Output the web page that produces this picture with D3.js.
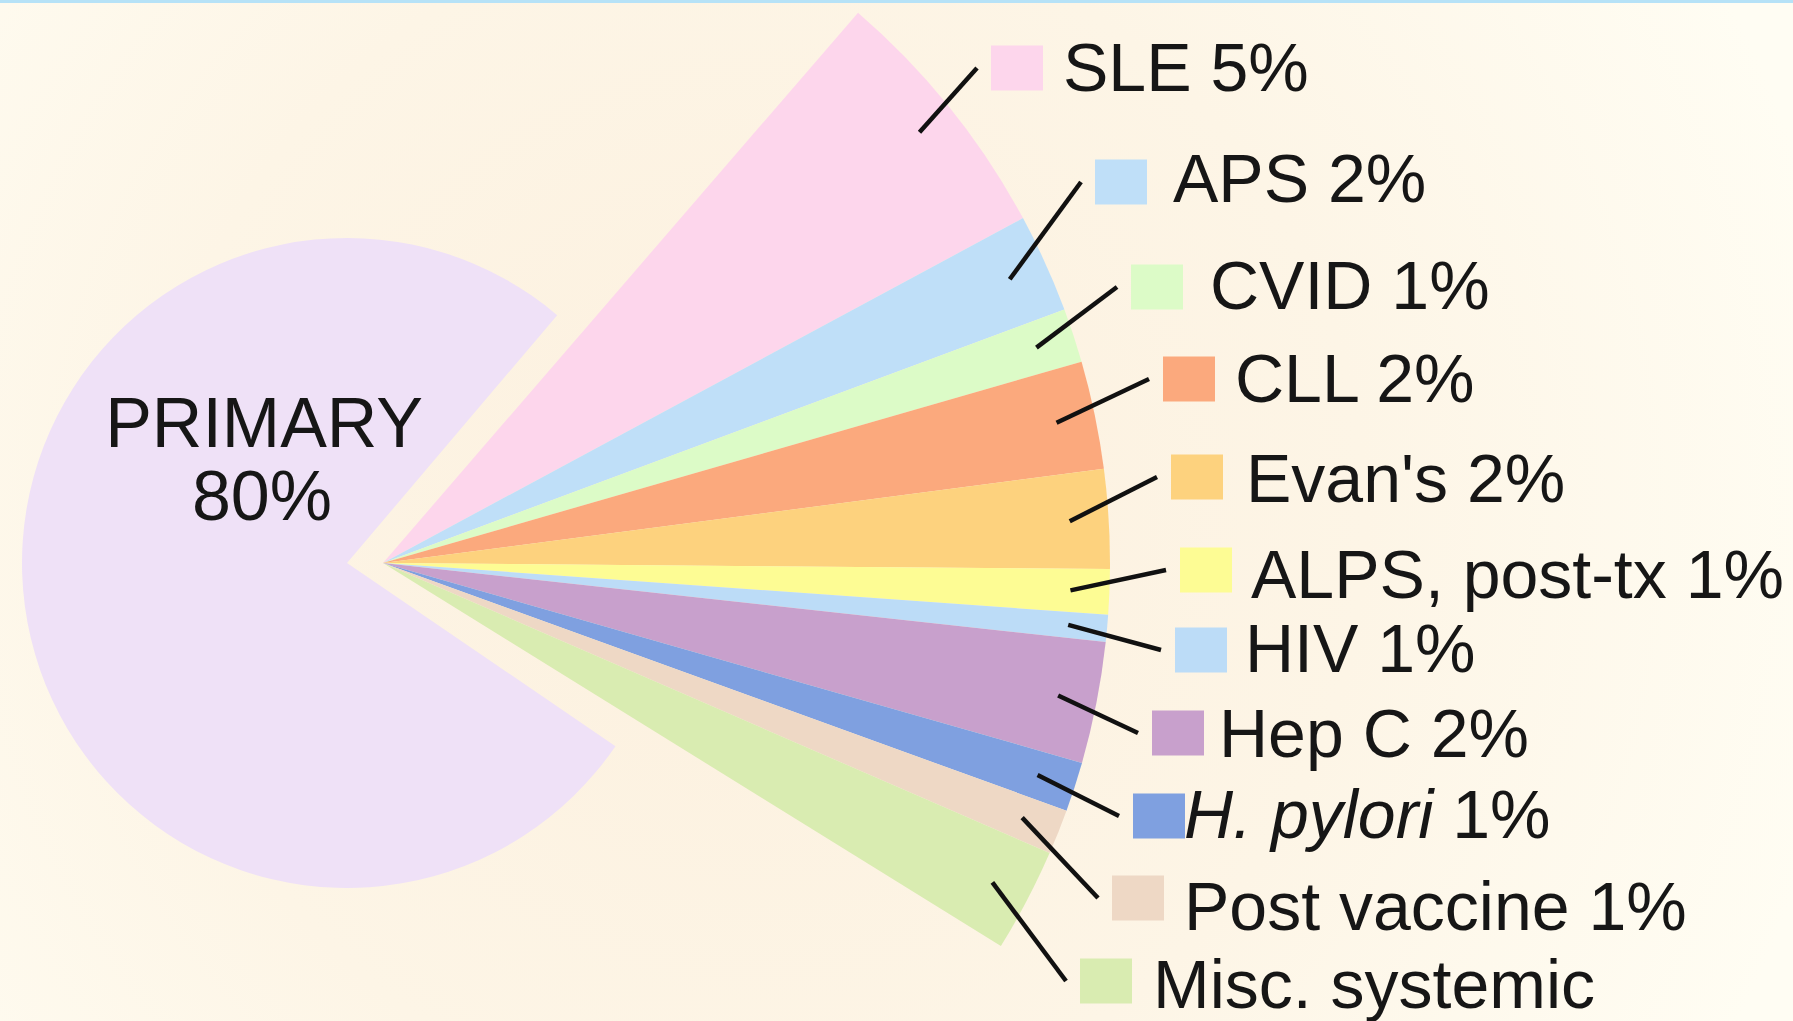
<!DOCTYPE html>
<html>
<head>
<meta charset="utf-8">
<script src="https://cdn.jsdelivr.net/npm/d3@7"></script>
<style>
  html, body { margin: 0; padding: 0; overflow: hidden; background: #fdf8ea; }
  svg { display: block; }
  text { font-family: "Liberation Sans", Arial, sans-serif; fill: #161616; }
</style>
</head>
<body>
<svg id="chart" width="1793" height="1021"></svg>
<script>
// ---- data ----
const categories = ["SLE", "APS", "CVID", "CLL", "Evan's", "ALPS, post-tx", "HIV", "Hep C", "H. pylori", "Post vaccine", "Misc. systemic"];
const labelPct   = ["5%", "2%", "1%", "2%", "2%", "1%", "1%", "2%", "1%", "1%", ""];
const italicName = [false, false, false, false, false, false, false, false, true, false, false];
// drawn angular share of each exploded slice (percent of full circle)
const sliceShare = [5.8, 2.2, 1.2, 2.4, 2.2, 1.0, 0.6, 2.7, 1.1, 1.0, 2.3];
const primaryName = "PRIMARY";
const primaryPct = "80%";
const primaryShare = 77.5;
const sliceColors = ["#fdd6ec", "#bfdff8", "#dcfbc7", "#fba97d", "#fdd27e", "#fdfc94", "#bcdcf7", "#c8a0cc", "#7fa0e0", "#eed8c5", "#d9ecb1"];
const primaryColor = "#efe1f7";

// ---- layout ----
const W = 1793, H = 1021;
const deg = Math.PI / 180;
const fanCenter = [383, 563], fanR = 727, leaderR = 688;
const priCenter = [347, 563], priR = 325;
const startAngle = 40.8 * deg;
const priInsetStart = 2.5 * deg, priInsetEnd = 0.5 * deg;
const legendCenter = [[1017,68],[1121,182],[1157,287],[1189,379],[1197,477],[1206,570],[1201,650],[1178,733],[1159,816],[1138,898],[1106,981]];
const legendTextX = [1063,1173,1210,1235,1246,1251,1245,1219,1184,1184,1153];
const legendBase  = [91,202,309,402,502,598,672,757,838,930,1008];
const sqW = 52, sqH = 45, fontSize = 68;

const svg = d3.select("#chart");
const defs = svg.append("defs");
const grad = defs.append("radialGradient").attr("id", "bg")
  .attr("gradientUnits", "userSpaceOnUse")
  .attr("cx", 760).attr("cy", 520).attr("r", 1100);
grad.append("stop").attr("offset", "0").attr("stop-color", "#fcf0de");
grad.append("stop").attr("offset", "0.55").attr("stop-color", "#fdf5e6");
grad.append("stop").attr("offset", "1").attr("stop-color", "#fffdf3");
svg.append("rect").attr("width", W).attr("height", H).attr("fill", "url(#bg)");
svg.append("rect").attr("width", W).attr("height", 3).attr("fill", "#b6e2f7");

const items = categories.map((c, i) => ({ name: c, share: sliceShare[i], color: sliceColors[i], i }));
const pieData = items.concat([{ name: primaryName, share: primaryShare, color: primaryColor, primary: true }]);

const pie = d3.pie().sort(null).value(d => d.share)
  .startAngle(startAngle).endAngle(startAngle + 2 * Math.PI);
const arcs = pie(pieData);

const fanArc = d3.arc().innerRadius(0).outerRadius(fanR);
const priArc = d3.arc().innerRadius(0).outerRadius(priR);

// primary slice
const pa = arcs.find(a => a.data.primary);
svg.append("path")
  .attr("transform", `translate(${priCenter})`)
  .attr("d", priArc({ startAngle: pa.startAngle + priInsetStart, endAngle: pa.endAngle - priInsetEnd }))
  .attr("fill", primaryColor);

// exploded fan
const fanArcs = arcs.filter(a => !a.data.primary);
svg.append("g").attr("transform", `translate(${fanCenter})`)
  .selectAll("path").data(fanArcs).join("path")
  .attr("d", fanArc)
  .attr("fill", d => d.data.color);

// leader lines
svg.append("g").selectAll("line").data(fanArcs).join("line")
  .attr("x1", d => fanCenter[0] + leaderR * Math.sin((d.startAngle + d.endAngle) / 2))
  .attr("y1", d => fanCenter[1] - leaderR * Math.cos((d.startAngle + d.endAngle) / 2))
  .attr("x2", d => legendCenter[d.data.i][0] - sqW / 2 - 14)
  .attr("y2", d => legendCenter[d.data.i][1])
  .attr("stroke", "#111").attr("stroke-width", 4.5);

// legend squares
svg.append("g").selectAll("rect").data(items).join("rect")
  .attr("x", d => legendCenter[d.i][0] - sqW / 2)
  .attr("y", d => legendCenter[d.i][1] - sqH / 2)
  .attr("width", sqW).attr("height", sqH)
  .attr("fill", d => d.color);

// legend texts
const lt = svg.append("g").selectAll("text").data(items).join("text")
  .attr("x", d => legendTextX[d.i])
  .attr("y", d => legendBase[d.i])
  .attr("font-size", fontSize);
lt.append("tspan")
  .attr("font-style", d => italicName[d.i] ? "italic" : "normal")
  .text(d => d.name);
lt.append("tspan")
  .text(d => labelPct[d.i] ? " " + labelPct[d.i] : "");

// primary label
svg.append("text").attr("x", 264).attr("y", 447).attr("text-anchor", "middle")
  .attr("font-size", 70).text(primaryName);
svg.append("text").attr("x", 262).attr("y", 520).attr("text-anchor", "middle")
  .attr("font-size", 70).text(primaryPct);
</script>
</body>
</html>
